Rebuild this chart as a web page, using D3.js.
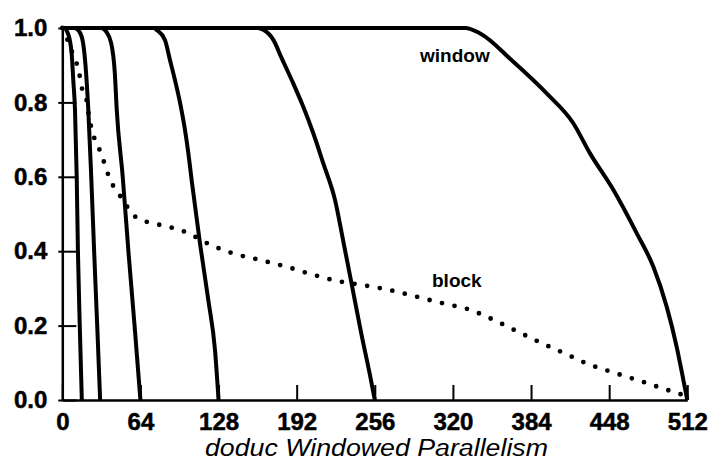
<!DOCTYPE html>
<html>
<head>
<meta charset="utf-8">
<script src="https://cdn.jsdelivr.net/npm/d3@7"></script>
<style>
  html, body { margin: 0; padding: 0; background: #fff; }
  svg { display: block; }
  text { font-family: "Liberation Sans", Arial, Helvetica, sans-serif; fill: #000; }
</style>
</head>
<body>
<svg id="chart" width="716" height="461"></svg>
<script>
// ---- data ----
const xTicks = [0, 64, 128, 192, 256, 320, 384, 448, 512];
const yTicks = [0.0, 0.2, 0.4, 0.6, 0.8, 1.0];
const windowSizes = [16, 32, 64, 128, 256, 512];

// [window parallelism, fraction]
const window16 = [[0,1],[2,1],[4,0.99],[6,0.97],[7.7,0.93],[9,0.86],[10.4,0.78],[11.8,0.6],[12.8,0.4],[14.3,0.2],[16,0]];
const window32 = [[0,1],[10,1],[14,0.99],[17,0.96],[19,0.9],[21.3,0.78],[23.7,0.6],[26.2,0.39],[28.6,0.2],[31,0]];
const window64 = [[0,1],[32,1],[36,0.99],[40,0.96],[43,0.88],[44.6,0.78],[49.5,0.6],[54.4,0.39],[59.2,0.2],[64,0]];
const window128 = [[0,1],[75,1],[77.3,0.995],[84.1,0.968],[88.2,0.914],[92.3,0.86],[96.4,0.8],[100.5,0.726],[103.2,0.665],[106,0.59],[112.8,0.421],[119.6,0.269],[125.1,0.134],[128,0]];
const window256 = [[0,1],[160,1],[164.7,0.995],[172.9,0.968],[179.7,0.919],[189.2,0.851],[197.4,0.788],[205.6,0.717],[213.8,0.636],[223.4,0.538],[230,0.43],[236.9,0.314],[244.9,0.179],[252.3,0.063],[256,0]];
const window512 = [[0,1],[330,1],[342,0.986],[369.5,0.909],[396.8,0.824],[418.6,0.744],[432.3,0.663],[451.4,0.565],[470.6,0.448],[484.2,0.358],[495.1,0.251],[503.3,0.143],[509,0.05],[512,0]];
const windowSeries = [window16, window32, window64, window128, window256, window512];

const block = [[0,1],[4,0.97],[6.3,0.95],[10.4,0.914],[13.7,0.883],[15.3,0.847],[19.4,0.815],[22,0.76],[25.4,0.712],[29.5,0.681],[33.6,0.645],[36.9,0.612],[41.3,0.578],[47.5,0.548],[59,0.495],[70,0.478],[80.9,0.47],[101.3,0.451],[119.6,0.42],[140.1,0.394],[162.5,0.376],[183.8,0.358],[205.1,0.337],[225.3,0.32],[246.1,0.309],[267.6,0.296],[289.8,0.278],[311.6,0.26],[332.6,0.244],[352.3,0.217],[371.7,0.186],[391.3,0.155],[411,0.126],[430.4,0.097],[451.4,0.074],[472.7,0.052],[492.9,0.03],[512,0.01]];

const xTitle = "doduc Windowed Parallelism";
const seriesLabels = ["window", "block"];

// ---- drawing ----
const svg = d3.select("#chart");
const x = d3.scaleLinear().domain([0, 512]).range([62.3, 687.3]);
const y = d3.scaleLinear().domain([0, 1]).range([400, 28]);

const line = d3.line().x(d => x(d[0])).y(d => y(d[1])).curve(d3.curveMonotoneX);

// x axis
const gx = svg.append("g").attr("transform", `translate(0,${y(0)})`)
  .call(d3.axisBottom(x).tickValues(xTicks).tickFormat(d3.format("d"))
    .tickSizeInner(-15).tickSizeOuter(0).tickPadding(13));
gx.select(".domain").attr("stroke", "#000").attr("stroke-width", 2.5);
gx.selectAll(".tick line").attr("stroke", "#000").attr("stroke-width", 2);
gx.selectAll(".tick text").attr("font-size", 24).attr("font-weight", "bold")
  .attr("font-family", "'Liberation Sans', Arial, sans-serif").attr("fill", "#000")
  .attr("stroke", "#000").attr("stroke-width", 0.5);

// y axis
const gy = svg.append("g").attr("transform", `translate(${x(0)},0)`)
  .call(d3.axisLeft(y).tickValues(yTicks).tickFormat(d3.format(".1f"))
    .tickSizeInner(-14).tickSizeOuter(0).tickPadding(15));
gy.select(".domain").attr("stroke", "#000").attr("stroke-width", 2.5);
gy.selectAll(".tick line").attr("x1", -4).attr("x2", 14).attr("stroke", "#000").attr("stroke-width", 2);
gy.selectAll(".tick text").attr("font-size", 24).attr("font-weight", "bold")
  .attr("font-family", "'Liberation Sans', Arial, sans-serif").attr("fill", "#000")
  .attr("stroke", "#000").attr("stroke-width", 0.5);

// window curves
svg.append("g").selectAll("path.win").data(windowSeries).join("path")
  .attr("class", "win")
  .attr("d", line)
  .attr("fill", "none")
  .attr("stroke", "#000")
  .attr("stroke-width", 4)
  .attr("stroke-linejoin", "round");

// block curve (dotted)
svg.append("path").datum(block)
  .attr("d", line)
  .attr("fill", "none")
  .attr("stroke", "#000")
  .attr("stroke-width", 4.8)
  .attr("stroke-linecap", "round")
  .attr("stroke-dasharray", "0 12.8");

// labels
svg.append("text").attr("x", 420).attr("y", 62).attr("font-size", 19).attr("font-weight", "bold")
  .text(seriesLabels[0]);
svg.append("text").attr("x", 432).attr("y", 287).attr("font-size", 19).attr("font-weight", "bold")
  .text(seriesLabels[1]);

// x title
svg.append("text").attr("x", 376.5).attr("y", 456).attr("text-anchor", "middle")
  .attr("font-size", 23).attr("font-style", "italic")
  .attr("textLength", 343).attr("lengthAdjust", "spacingAndGlyphs")
  .text(xTitle);
</script>
</body>
</html>
